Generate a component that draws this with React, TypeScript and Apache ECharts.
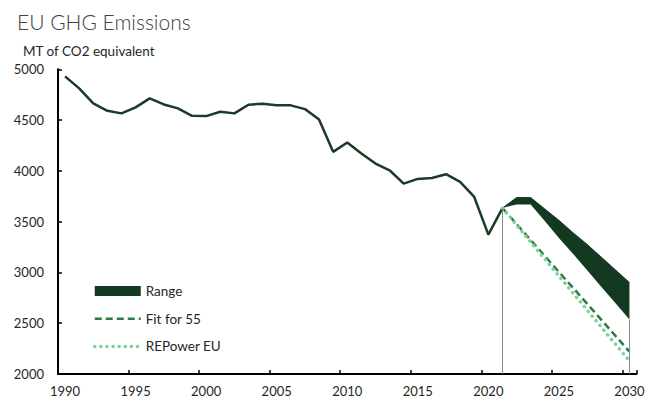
import React, { useEffect, useRef } from "react";
import * as echarts from "echarts";

const YEARS = [
  "1990", "1991", "1992", "1993", "1994", "1995", "1996", "1997", "1998", "1999",
  "2000", "2001", "2002", "2003", "2004", "2005", "2006", "2007", "2008", "2009",
  "2010", "2011", "2012", "2013", "2014", "2015", "2016", "2017", "2018", "2019",
  "2020", "2021", "2022", "2023", "2024", "2025", "2026", "2027", "2028", "2029", "2030",
];

const HIST_YEARS = YEARS.slice(0, 32);
const HIST = [
  4930, 4812, 4664, 4591, 4566, 4625, 4714, 4654, 4615, 4542,
  4539, 4582, 4566, 4651, 4661, 4645, 4645, 4608, 4506, 4187,
  4280, 4171, 4072, 4006, 3875, 3921, 3930, 3967, 3891, 3743,
  3372, 3634,
];

const RANGE_YEARS = ["2021", "2022", "2023", "2024", "2025", "2026", "2027", "2028", "2029", "2030"];
const RANGE_UPPER = [3634, 3737, 3737, 3625, 3513, 3391, 3276, 3151, 3026, 2900];
const RANGE_LOWER = [3634, 3670, 3670, 3506, 3340, 3184, 3022, 2860, 2698, 2536];

const TARGET_YEARS = ["2021", "2030"];
const FIT55 = [3634, 2220];
const REPOWER = [3634, 2128];

const Y_TICKS = { min: 2000, max: 5000, interval: 500 };

function align(keys: string[], vals: number[]) {
  return YEARS.map((y) => {
    const i = keys.indexOf(y);
    return i >= 0 ? vals[i] : null;
  });
}

const FONT = "Lato";
const DARK = "#133a21";
const FIT_COLOR = "#2e7b48";
const REP_COLOR = "#7dd294";
const FIT_DASH = [7, 4];
const REP_DASH = [0.1, 6];

export default function App() {
  const ref = useRef<HTMLDivElement>(null);
  useEffect(() => {
    if (!ref.current) return;
    const chart = echarts.init(ref.current, undefined, { renderer: "svg" });
    const lowerAligned = align(RANGE_YEARS, RANGE_LOWER);
    const diffAligned = align(
      RANGE_YEARS,
      RANGE_UPPER.map((u, i) => u - RANGE_LOWER[i])
    );
    const lastRangeYear = RANGE_YEARS[RANGE_YEARS.length - 1];
    const lastHistYear = HIST_YEARS[HIST_YEARS.length - 1];
    chart.setOption({
      animation: false,
      textStyle: { fontFamily: FONT },
      title: [
        {
          text: "EU GHG Emissions",
          left: 12,
          top: 6,
          textStyle: { fontFamily: FONT, fontSize: 21, fontWeight: 300, color: "#404040" },
        },
        {
          text: "MT of CO2 equivalent",
          left: 18,
          top: 39,
          textStyle: { fontFamily: FONT, fontSize: 13.5, fontWeight: "normal", color: "#262626" },
        },
      ],
      legend: {
        orient: "vertical",
        left: 88,
        top: 279,
        itemWidth: 46,
        itemHeight: 10,
        itemGap: 13.7,
        textStyle: { fontFamily: FONT, fontSize: 13.5, color: "#262626", lineHeight: 14 },
        data: [
          { name: "Range", icon: "rect", itemStyle: { color: DARK } },
          {
            name: "Fit for 55",
            itemStyle: { opacity: 0 },
            lineStyle: { color: FIT_COLOR, width: 2.5, type: FIT_DASH },
          },
          {
            name: "REPower EU",
            itemStyle: { opacity: 0 },
            lineStyle: { color: REP_COLOR, width: 3.5, type: REP_DASH, cap: "round" },
          },
        ],
      },
      grid: { left: 58, right: 12.5, top: 69.3, bottom: 29, containLabel: false },
      xAxis: {
        type: "category",
        data: YEARS,
        boundaryGap: true,
        axisLine: { lineStyle: { color: "#000", width: 2 } },
        axisTick: { show: true, inside: true, length: 4, interval: 4, lineStyle: { color: "#000", width: 1.5 } },
        axisLabel: { interval: 4, margin: 10, fontSize: 13, color: "#262626", fontFamily: FONT },
        splitLine: { show: false },
      },
      yAxis: {
        type: "value",
        min: Y_TICKS.min,
        max: Y_TICKS.max,
        interval: Y_TICKS.interval,
        axisLine: { show: true, lineStyle: { color: "#000", width: 2 } },
        axisTick: { show: true, inside: true, length: 4, lineStyle: { color: "#000", width: 1.5 } },
        axisLabel: {
          margin: 14,
          fontSize: 13,
          color: "#262626",
          fontFamily: FONT,
          formatter: (v: number) => String(v),
        },
        splitLine: { show: false },
      },
      series: [
        {
          name: "Emissions",
          type: "line",
          data: align(HIST_YEARS, HIST),
          symbol: "none",
          lineStyle: { color: "#1c3b24", width: 2.5 },
          itemStyle: { color: "#1c3b24" },
          z: 3,
        },
        {
          name: "RangeBase",
          type: "line",
          stack: "range",
          data: lowerAligned,
          symbol: "none",
          lineStyle: { width: 0, opacity: 0 },
          silent: true,
          markLine: {
            silent: true,
            symbol: ["none", "none"],
            label: { show: false },
            lineStyle: { color: "#7f8f85", width: 1, type: "solid" },
            data: [
              [{ coord: [lastHistYear, HIST[HIST.length - 1]] }, { coord: [lastHistYear, Y_TICKS.min] }],
              [{ coord: [lastRangeYear, RANGE_LOWER[RANGE_LOWER.length - 1]] }, { coord: [lastRangeYear, Y_TICKS.min] }],
            ],
          },
        },
        {
          name: "Range",
          type: "line",
          stack: "range",
          data: diffAligned,
          symbol: "none",
          lineStyle: { width: 1, color: DARK },
          itemStyle: { color: DARK },
          areaStyle: { color: DARK, opacity: 1 },
          z: 2,
        },
        {
          name: "Fit for 55",
          type: "line",
          data: align(TARGET_YEARS, FIT55),
          connectNulls: true,
          symbol: "none",
          lineStyle: { color: FIT_COLOR, width: 2.5, type: FIT_DASH },
          itemStyle: { color: FIT_COLOR },
          z: 4,
        },
        {
          name: "REPower EU",
          type: "line",
          data: align(TARGET_YEARS, REPOWER),
          connectNulls: true,
          symbol: "none",
          lineStyle: { color: REP_COLOR, width: 3.5, type: REP_DASH, cap: "round" },
          itemStyle: { color: REP_COLOR },
          z: 4,
        },
      ],
    });
    return () => chart.dispose();
  }, []);
  return (
    <div
      ref={ref}
      style={{ position: "fixed", left: 0, top: 0, width: 649, height: 403, background: "#fff" }}
    />
  );
}
